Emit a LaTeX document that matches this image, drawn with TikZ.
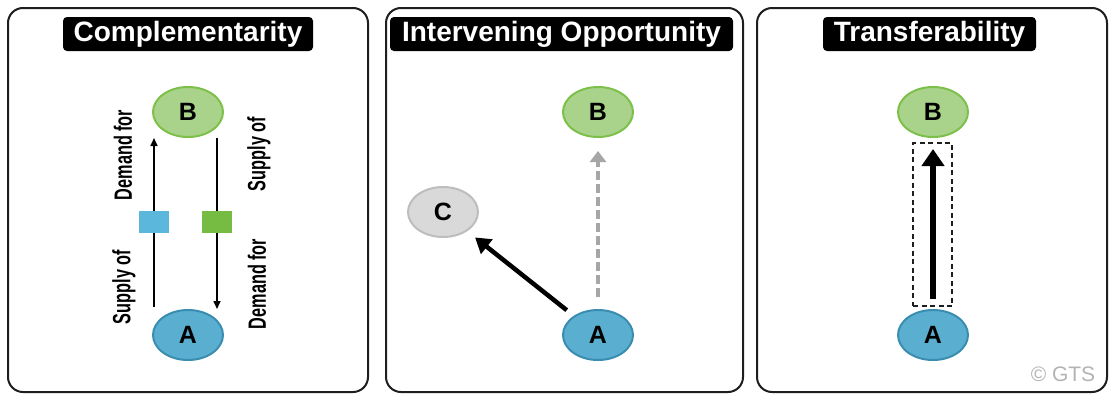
\documentclass[tikz,border=0pt]{standalone}
\usepackage{fontspec}
\setmainfont{Liberation Sans}
\usetikzlibrary{arrows.meta,shapes.geometric,calc}
\definecolor{afill}{HTML}{5AAFD0}
\definecolor{aline}{HTML}{3A8DB0}
\definecolor{bfill}{HTML}{A9D38B}
\definecolor{bline}{HTML}{7CC04A}
\definecolor{cfill}{HTML}{D9D9D9}
\definecolor{cline}{HTML}{BDBDBD}
\definecolor{sqblue}{HTML}{5BB7DB}
\definecolor{sqgreen}{HTML}{76BB42}
\definecolor{frame}{HTML}{1E1E1E}
\definecolor{dashgray}{HTML}{A6A6A6}
\definecolor{copygray}{HTML}{B3B3B3}
\newcommand{\lbl}[1]{\scalebox{0.65}[1]{\fontsize{25}{25}\selectfont\bfseries #1}}
\begin{document}
\begin{tikzpicture}[x=1pt,y=-1pt,
  panel/.style={draw=frame,line width=2pt,rounded corners=15pt},
  title/.style={fill=black,text=white,rounded corners=4pt,font=\fontsize{28}{28}\selectfont\bfseries,minimum height=34pt,inner sep=0pt},
  place/.style={ellipse,minimum width=70pt,minimum height=50pt,line width=2pt,inner sep=0pt,font=\fontsize{25}{25}\selectfont\bfseries},
  anode/.style={place,fill=afill,draw=aline},
  bnode/.style={place,fill=bfill,draw=bline},
  cnode/.style={place,fill=cfill,draw=cline},
  sqbox/.style={minimum width=30pt,minimum height=22pt,inner sep=0pt},
  vlabel/.style={rotate=90,inner sep=0pt},
  thinarrow/.style={line width=1.6pt,-{Triangle[length=8pt,width=7pt]}},
  grayarrow/.style={draw=dashgray,line width=4pt,dash pattern=on 9pt off 4pt,-{Triangle[length=11pt,width=16pt]}},
  blackarrow/.style={line width=4.5pt,-{Triangle[length=15pt,width=18pt]}},
  bigarrow/.style={line width=6pt,-{Triangle[length=17pt,width=22pt]}},
  dashbox/.style={draw=frame,line width=1.6pt,dash pattern=on 5pt off 3.5pt,minimum width=39pt,minimum height=163pt,inner sep=0pt}
]
\useasboundingbox (0,0) rectangle (1110,394);

% panels
\draw[panel] (8,8) rectangle (368,392);
\draw[panel] (386,8) rectangle (743,392);
\draw[panel] (757,8) rectangle (1107,392);

% ---------- Panel 1 ----------
\node[title,minimum width=250pt] (t1) at (188,34) {Complementarity};
\node[bnode] (B1) at (188,112) {B};
\node[anode] (A1) at (188,335) {A};
\coordinate (xl) at (154,222);
\coordinate (xr) at (217,222);
\draw[thinarrow,shorten <=2pt] (xl |- A1.north) -- (xl |- B1.south);
\draw[thinarrow] (xr |- B1.south) -- (xr |- A1.north);
\node[sqbox,fill=sqblue] (s1) at (xl) {};
\node[sqbox,fill=sqgreen] (s2) at (xr) {};
\node[vlabel] (l1) at (123,155) {\lbl{Demand for}};
\node[vlabel] (l2) at (124,287) {\lbl{Supply of}};
\node[vlabel] (l3) at (259,154) {\lbl{Supply of}};
\node[vlabel] (l4) at (257,284) {\lbl{Demand for}};

% ---------- Panel 2 ----------
\node[title,minimum width=343pt] (t2) at (561.5,34) {Intervening Opportunity};
\node[bnode] (B2) at (598,112) {B};
\node[cnode] (C2) at (443,212) {C};
\node[anode] (A2) at (598,335) {A};
\draw[grayarrow,shorten <=12pt,shorten >=13pt] (A2.north) -- (B2.south);
\draw[blackarrow,shorten <=9pt,shorten >=10pt] (A2) -- (C2);

% ---------- Panel 3 ----------
\node[title,minimum width=213pt] (t3) at (929.5,34) {Transferability};
\node[bnode] (B3) at (933,112) {B};
\node[anode] (A3) at (933,335) {A};
\node[dashbox] (box3) at (932.5,224.5) {};
\draw[bigarrow,shorten <=10pt,shorten >=11pt] (A3.north) -- (B3.south);
\node[text=copygray,font=\fontsize{21}{21}\selectfont,inner sep=0pt] (cr) at (1063,374) {© GTS};
\end{tikzpicture}
\end{document}
